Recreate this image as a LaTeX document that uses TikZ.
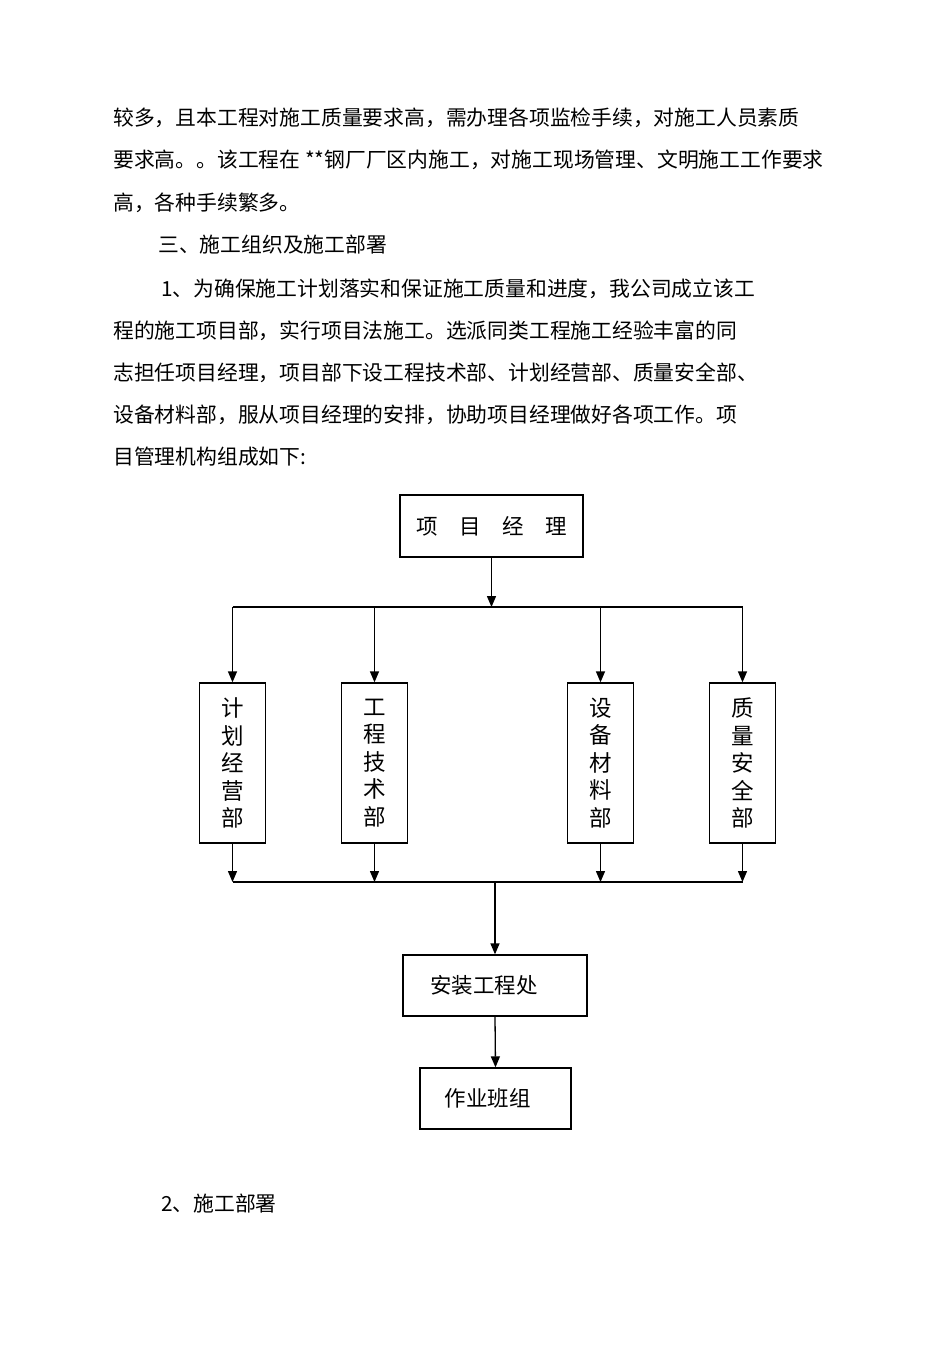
\documentclass[tikz,border=0pt]{standalone}
\usepackage{fontspec}
\setmainfont{Noto Sans CJK SC}
\usetikzlibrary{arrows.meta}
\tikzset{
  bx/.style={draw, line width=1.3pt, inner sep=0pt, font=\fontsize{21.5}{21.5}\selectfont},
  vbx/.style={bx, minimum width=66pt, minimum height=160pt, align=center, font=\fontsize{22.5}{27.5}\selectfont},
  arr/.style={line width=1.3pt, -{Triangle[length=11pt,width=9pt]}},
  ln/.style={line width=1.3pt},
  para/.style={anchor=west, inner sep=0pt, font=\fontsize{20.8}{20.8}\selectfont}
}
\begin{document}
\begin{tikzpicture}[x=1pt,y=-1pt]
\fill[white] (0,0) rectangle (950,1345);
\useasboundingbox (0,0) rectangle (950,1345);
% paragraph text
\node[para] (p1) at (113,118) {较多，且本工程对施工质量要求高，需办理各项监检手续，对施工人员素质};
\node[para] (p2) at (113,160) {要求高。。该工程在 **钢厂厂区内施工，对施工现场管理、文明施工工作要求};
\node[para] (p3) at (113,203) {高，各种手续繁多。};
\node[para] (p4) at (158,245) {三、施工组织及施工部署};
\node[para] (p5) at (161,289) {1、为确保施工计划落实和保证施工质量和进度，我公司成立该工};
\node[para] (p6) at (113,331) {程的施工项目部，实行项目法施工。选派同类工程施工经验丰富的同};
\node[para] (p7) at (113,373) {志担任项目经理，项目部下设工程技术部、计划经营部、质量安全部、};
\node[para] (p8) at (113,415) {设备材料部，服从项目经理的安排，协助项目经理做好各项工作。项};
\node[para] (p9) at (113,457) {目管理机构组成如下:};
% chart
\node[bx, minimum width=183pt, minimum height=62pt] (pm) at (491.5,526) {项\hspace{21.5pt}目\hspace{21.5pt}经\hspace{21.5pt}理};
\node[vbx] (b1) at (232.5,763) {计\\划\\经\\营\\部};
\node[vbx] (b2) at (374.5,763) {工\\程\\技\\术\\部};
\node[vbx] (b3) at (600.5,763) {设\\备\\材\\料\\部};
\node[vbx] (b4) at (742.5,763) {质\\量\\安\\全\\部};
\node[bx, minimum width=184pt, minimum height=61pt] (an) at (495,985.5) {安装工程处\hspace*{22pt}};
\node[bx, minimum width=151pt, minimum height=61pt] (zy) at (495.5,1098.5) {作业班组\hspace*{16pt}};
\coordinate (h1) at (0,607);
\coordinate (h2) at (0,882);
\draw[ln] (b1.north |- h1) -- (b4.north |- h1);
\draw[arr] (pm.south) -- (pm.south |- h1);
\foreach \b in {b1,b2,b3,b4} {
  \draw[arr] (\b.north |- h1) -- (\b.north);
  \draw[arr] (\b.south) -- (\b.south |- h2);
}
\draw[ln] (b1.south |- h2) -- (b4.south |- h2);
\draw[arr] (an.north |- h2) -- (an.north);
\draw[arr] (an.south) -- (zy.north);
\node[para] (s2) at (161,1204) {2、施工部署};
\end{tikzpicture}
\end{document}
